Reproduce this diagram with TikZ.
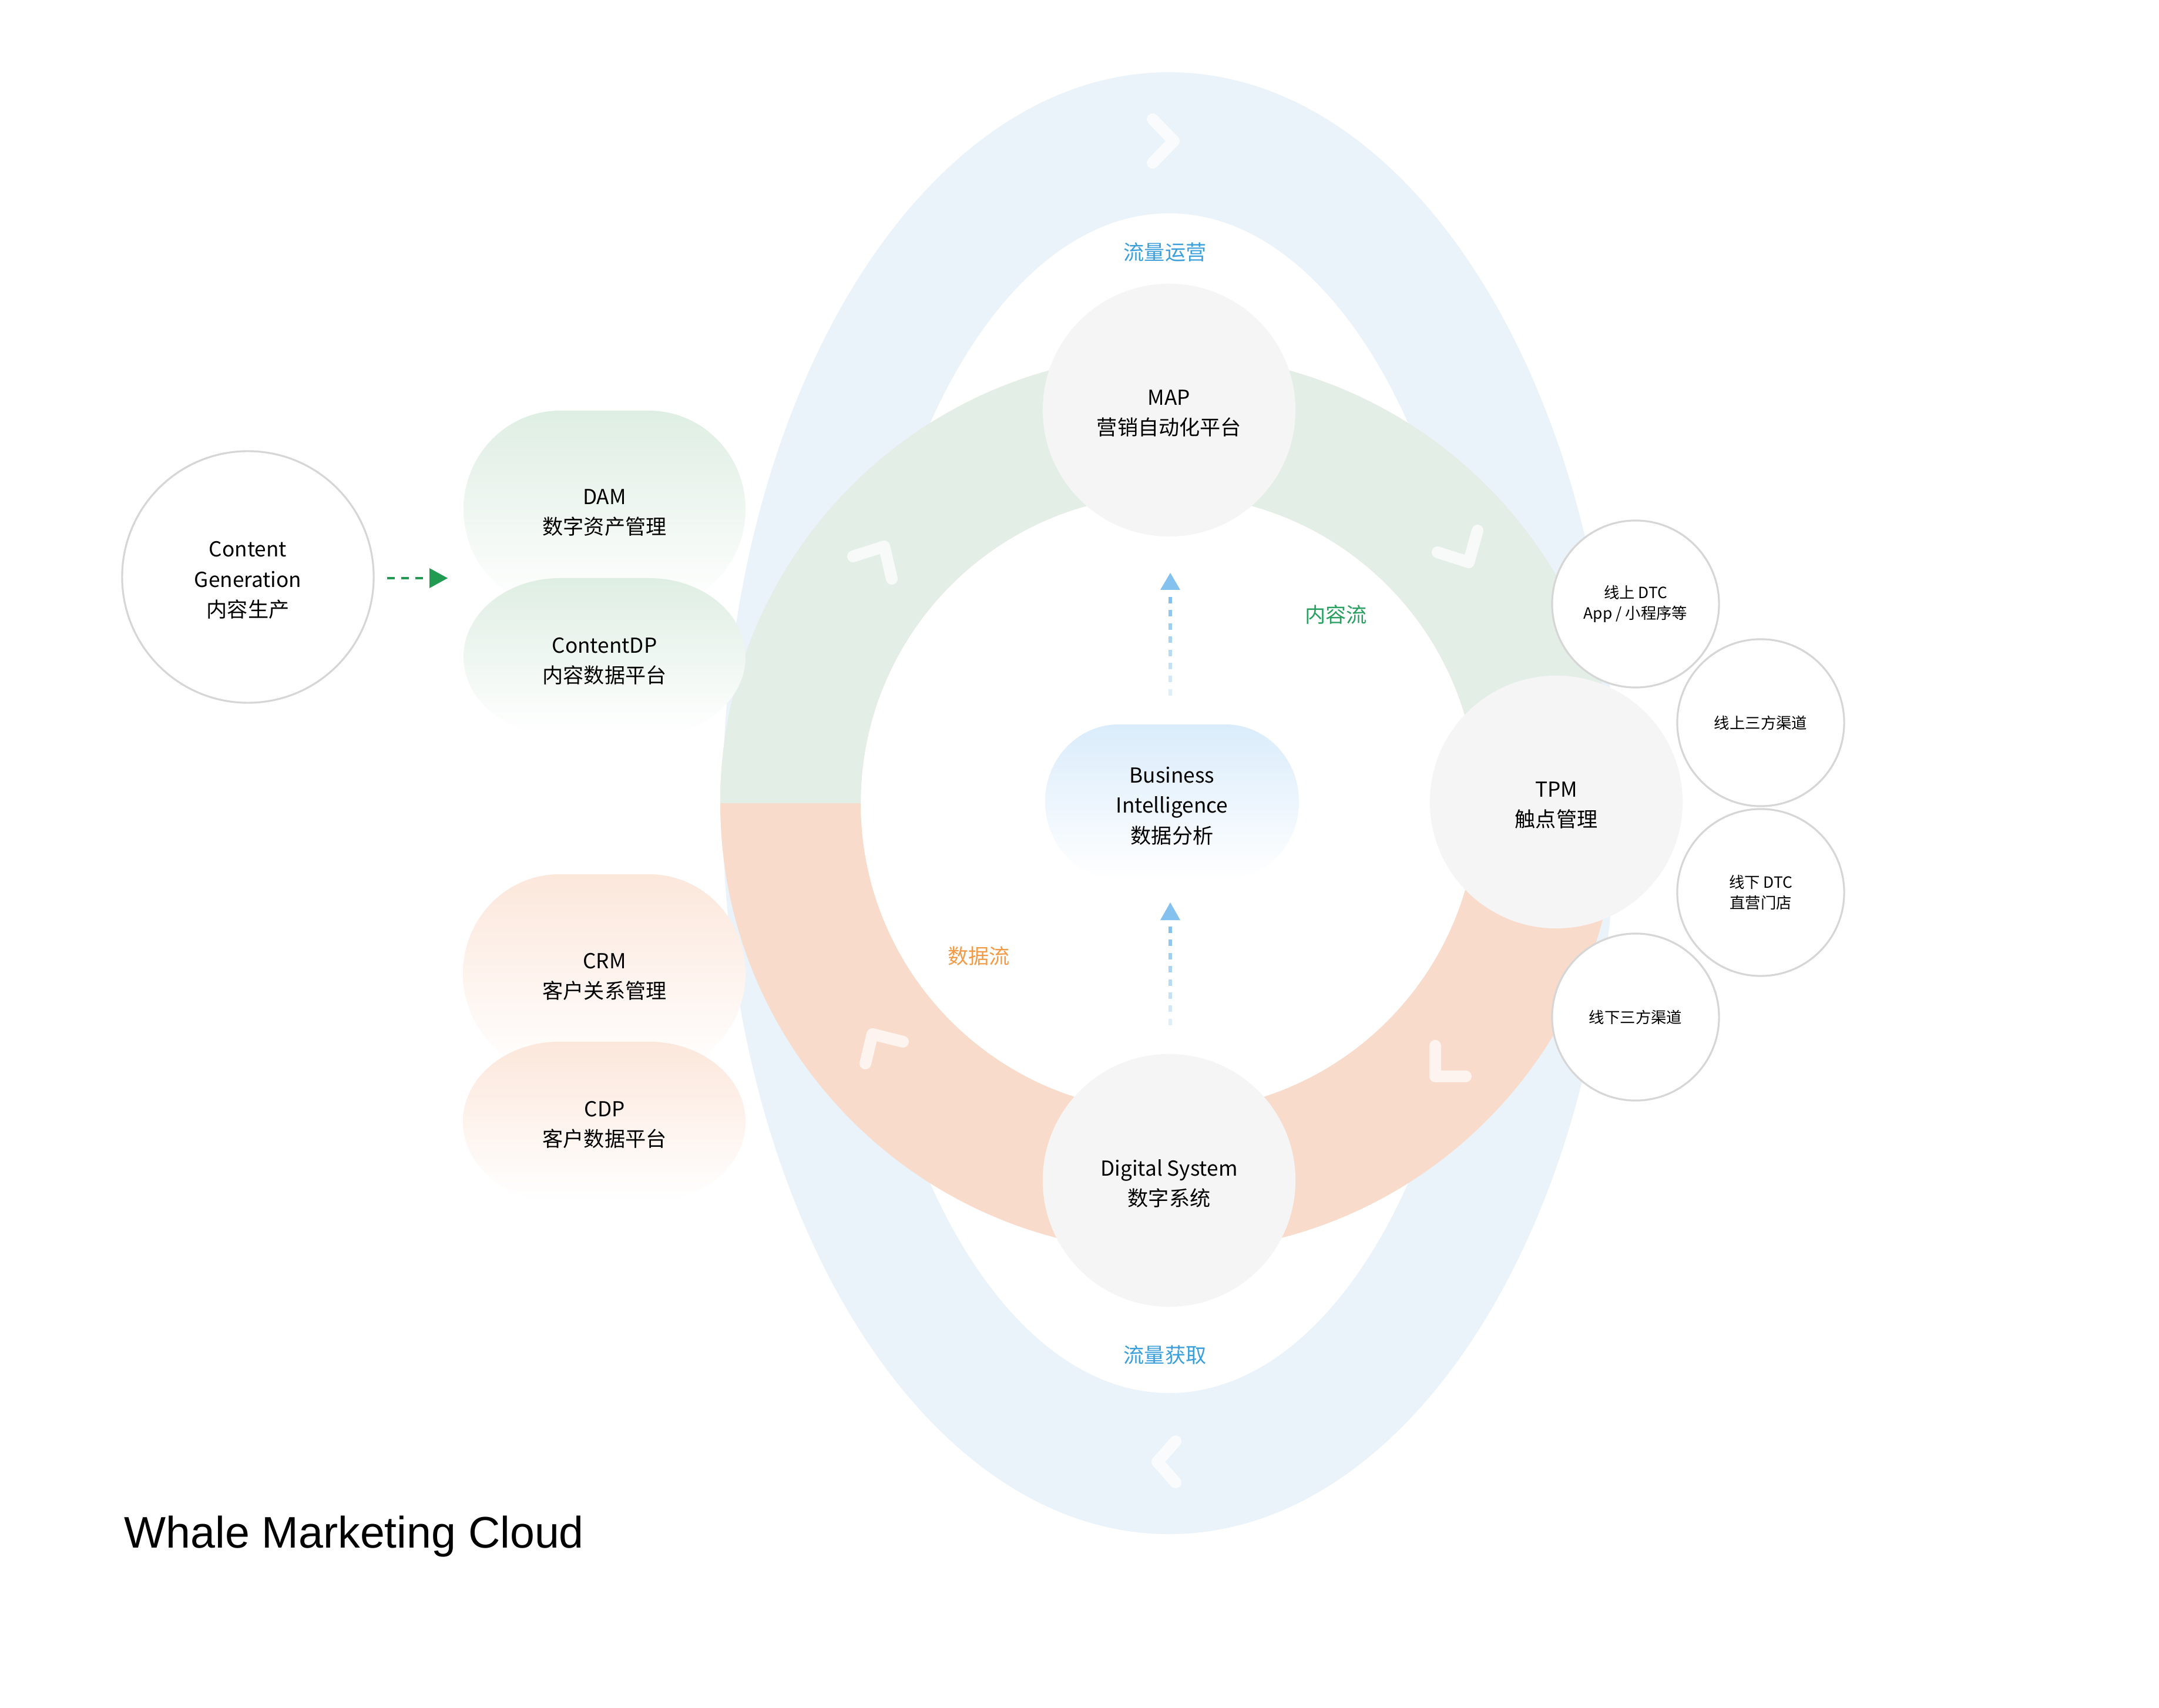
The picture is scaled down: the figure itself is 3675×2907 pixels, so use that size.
\documentclass[tikz,border=0pt]{standalone}
\usepackage{fontspec}
\setmainfont{Noto Sans CJK SC}
\newfontfamily\titlefont{Liberation Sans}
\usetikzlibrary{calc}
\definecolor{ringblue}{HTML}{EAF2FA}
\definecolor{ringgreen}{HTML}{E3EFE6}
\definecolor{ringorange}{HTML}{F8DBCA}
\definecolor{nodegray}{HTML}{F5F5F5}
\definecolor{bordergray}{HTML}{D6D6D6}
\definecolor{arrowblue}{HTML}{85C1EE}
\definecolor{arrowgreen}{HTML}{219A52}
\definecolor{lblblue}{HTML}{3A9FDB}
\definecolor{lblgreen}{HTML}{27A060}
\definecolor{lblorange}{HTML}{F39A45}
\definecolor{pillgreen}{HTML}{DFEEE3}
\definecolor{pillorange}{HTML}{FCE7DB}
\definecolor{pillblue}{HTML}{DAECFB}
\begin{document}
\begin{tikzpicture}[x=0.01cm,y=-0.01cm,
  txt/.style={font=\fontsize{10}{14.6}\selectfont, align=center, text=black, inner sep=0pt, yshift=-1.6pt},
  smalltxt/.style={font=\fontsize{7.5}{10.8}\selectfont, align=center, text=black},
  graynode/.style={circle, fill=nodegray, minimum size=4.3cm, inner sep=0pt},
  smallnode/.style={circle, draw=bordergray, line width=0.9pt, fill=white, minimum size=2.84cm, inner sep=0pt, smalltxt},
  cgnode/.style={circle, draw=bordergray, line width=0.9pt, fill=white, minimum size=4.28cm, inner sep=0pt},
  chev/.style={white, opacity=0.72, line width=5.7pt, line cap=round, line join=round},
  flowlbl/.style={font=\fontsize{10}{12}\selectfont, inner sep=0pt},
  pill/.style n args={6}{insert path={(#1+#5,#2) -- (#3-#5,#2) arc[start angle=-90,end angle=0,x radius=#5,y radius=#6] -- (#3,#4-#6) arc[start angle=0,end angle=90,x radius=#5,y radius=#6] -- (#1+#5,#4) arc[start angle=90,end angle=180,x radius=#5,y radius=#6] -- (#1,#2+#6) arc[start angle=180,end angle=270,x radius=#5,y radius=#6] -- cycle}}
]
\useasboundingbox (0,0) rectangle (3675,2907);
\fill[white] (0,0) rectangle (3675,2907);

% blue outer ellipse band
\fill[ringblue, even odd rule] (1990,1367) ellipse[x radius=760,y radius=1244] (1990,1367) ellipse[x radius=532,y radius=1004];

% orange full ring, then green top half over it
\fill[ringorange, even odd rule] (1990,1367) circle[radius=764] (1990,1367) circle[radius=525];
\fill[ringgreen] (1226,1367) arc[start angle=180,end angle=360,radius=764] -- (2515,1367) arc[start angle=0,end angle=-180,radius=525] -- cycle;

% chevrons
\draw[chev] (1452,947) -- (1505,930) -- (1518,985);
\draw[chev] (2447,940) -- (2500,957) -- (2515,903);
\draw[chev] (1473,1810) -- (1485,1760) -- (1537,1773);
\draw[chev] (2443,1780) -- (2443,1832) -- (2495,1832);
\draw[chev] (1962,203) -- (1998,240) -- (1962,277);
\draw[chev] (2001,2453) -- (1970,2488) -- (2001,2523);

% main gray circles
\node[graynode] (map) at (1990,698) {};
\node[txt] (maptxt) at (map) {MAP\\营销自动化平台};
\node[graynode] (ds) at (1990,2009) {};
\node[txt] (dstxt) at (ds) {Digital System\\数字系统};
\node[graynode] (tpm) at (2649,1365) {};
\node[txt] (tpmtxt) at (tpm) {TPM\\触点管理};

% touch point circles
\node[smallnode] (c1) at (2784,1028) {\raisebox{-1.5pt}{\shortstack{线上 DTC\\App / 小程序等}}};
\node[smallnode] (c2) at (2997,1230) {线上三方渠道};
\node[smallnode] (c3) at (2997,1519) {\raisebox{-1.5pt}{\shortstack{线下 DTC\\直营门店}}};
\node[smallnode] (c4) at (2784,1731) {线下三方渠道};

% BI pill
\shade[top color=pillblue, bottom color=white, pill={1779}{1233}{2211}{1496}{125}{131}];
\node[txt] (bi) at (1995,1366) {Business\\Intelligence\\数据分析};

% dashed arrows BI -> MAP, DS -> BI
\coordinate (upA) at (1992,1004);
\coordinate (upB) at (1992,1566);
\foreach \i in {0,...,7} {
  \pgfmathsetmacro\op{1-0.105*\i}
  \fill[arrowblue, opacity=\op] ($(upA)+(-3,12+22.4*\i)$) rectangle ++(6,11);
  \fill[arrowblue, opacity=\op] ($(upB)+(-3,11+22.4*\i)$) rectangle ++(6,11);
}
\fill[arrowblue] ($(upA)+(0,-29)$) -- ($(upA)+(17,0)$) -- ($(upA)+(-17,0)$) -- cycle;
\fill[arrowblue] ($(upB)+(0,-30)$) -- ($(upB)+(17,0)$) -- ($(upB)+(-17,0)$) -- cycle;

% left pills
\shade[top color=pillgreen, bottom color=white, pill={789}{699}{1269}{1035}{164}{168}];
\node[txt] (dam) at (1029,867) {DAM\\数字资产管理};
\shade[top color=pillgreen, bottom color=white, pill={789}{984}{1269}{1252}{164}{134}];
\node[txt] (cdpc) at (1029,1120) {ContentDP\\内容数据平台};
\shade[top color=pillorange, bottom color=white, pill={788}{1488}{1269}{1826}{164}{169}];
\node[txt] (crm) at (1029,1657) {CRM\\客户关系管理};
\shade[top color=pillorange, bottom color=white, pill={788}{1773}{1269}{2045}{164}{136}];
\node[txt] (cdp) at (1029,1909) {CDP\\客户数据平台};

% content generation
\node[cgnode] (cg) at (422,982) {};
\node[txt] (cgtxt) at (cg) {Content\\Generation\\内容生产};
\coordinate (gA) at (659,984);
\coordinate (gB) at (731,984);
\draw[arrowgreen, line width=1.35pt, dash pattern=on 3.7pt off 3.1pt] (gA) -- ($(gB)+(-11,0)$);
\fill[arrowgreen] ($(gB)+(0,-17)$) -- ($(gB)+(31,0)$) -- ($(gB)+(0,17)$) -- cycle;

% flow labels
\node[flowlbl, text=lblblue] (l1) at (1983,429) {流量运营};
\node[flowlbl, text=lblblue] (l2) at (1983,2306) {流量获取};
\node[flowlbl, text=lblgreen] (l3) at (2274,1046) {内容流};
\node[flowlbl, text=lblorange] (l4) at (1666,1627) {数据流};

% title
\node[anchor=base west, inner sep=0pt, font=\titlefont\fontsize{21.4}{26}\selectfont] (title) at (211,2634) {Whale Marketing Cloud};
\end{tikzpicture}
\end{document}
